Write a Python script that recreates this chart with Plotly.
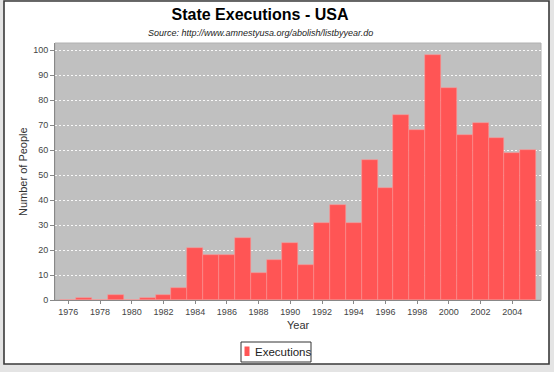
import plotly.graph_objects as go

years = list(range(1976, 2006))
executions = [0, 1, 0, 2, 0, 1, 2, 5, 21, 18, 18, 25, 11, 16, 23, 14, 31, 38, 31, 56,
              45, 74, 68, 98, 85, 66, 71, 65, 59, 60]
x_ticks = list(range(1976, 2005, 2))
y_ticks = list(range(0, 101, 10))

title_text = "State Executions - USA"
subtitle_text = "Source: http://www.amnestyusa.org/abolish/listbyyear.do"
series_name = "Executions"

W, H = 554, 372
L, R, T, B = 55, 13, 43, 72
PW, PH = W - L - R, H - T - B


def px(x):
    return (x - L) / PW


def py(y):
    return (H - B - y) / PH


FONT = "Liberation Sans, Arial, sans-serif"
RED = "#FF5555"

fig = go.Figure()
fig.add_trace(go.Bar(
    x=years, y=executions, name=series_name, width=1,
    marker=dict(color=RED, line=dict(color="rgba(255,150,150,0.9)", width=0.6)),
    showlegend=False,
))

shapes = [
    dict(type="rect", xref="paper", yref="paper", x0=px(0), x1=px(W), y0=py(H), y1=py(0),
         fillcolor="#E4E4E4", line=dict(width=0), layer="below"),
    dict(type="rect", xref="paper", yref="paper", x0=px(4), x1=px(549), y0=py(364), y1=py(1),
         fillcolor="white", line=dict(color="#3A3A3A", width=1.6), layer="below"),
    dict(type="rect", xref="paper", yref="paper", x0=0, x1=1, y0=0, y1=1,
         fillcolor="#C0C0C0", line=dict(color="#B0B0B0", width=1), layer="below"),
    dict(type="rect", xref="paper", yref="paper", x0=px(241), x1=px(311), y0=py(362), y1=py(342),
         fillcolor="white", line=dict(color="#333333", width=1), layer="above"),
    dict(type="rect", xref="paper", yref="paper", x0=px(244.5), x1=px(249.5), y0=py(356), y1=py(346.5),
         fillcolor=RED, line=dict(width=0), layer="above"),
]

annotations = [
    dict(text="<i>" + subtitle_text + "</i>", xref="paper", yref="paper", x=px(260), y=py(33.5),
         xanchor="center", yanchor="middle", showarrow=False,
         font=dict(family=FONT, size=9, color="#222")),
    dict(text="Number of People", xref="paper", yref="paper", x=px(22.5), y=py(171.5),
         xanchor="center", yanchor="middle", showarrow=False, textangle=-90,
         font=dict(family=FONT, size=11, color="#333")),
    dict(text="Year", xref="paper", yref="paper", x=px(298), y=py(325),
         xanchor="center", yanchor="middle", showarrow=False,
         font=dict(family=FONT, size=11, color="#333")),
    dict(text=series_name, xref="paper", yref="paper", x=px(252.5), y=py(352),
         xanchor="left", yanchor="middle", showarrow=False,
         font=dict(family=FONT, size=11.5, color="#222")),
]

fig.update_layout(
    width=W, height=H,
    margin=dict(l=L, r=R, t=T, b=B, pad=0),
    paper_bgcolor="white", plot_bgcolor="#C0C0C0",
    title=dict(text=title_text, xref="container", yref="container",
               x=260 / W, y=1 - 14 / H, xanchor="center", yanchor="middle",
               font=dict(family=FONT, size=16, color="black", weight="bold")),
    font=dict(family=FONT),
    bargap=0,
    shapes=shapes,
    annotations=annotations,
    xaxis=dict(range=[1975.16, 2005.81], tickvals=x_ticks, ticktext=[str(v) for v in x_ticks],
               ticks="outside", ticklen=3, tickcolor="#888", showline=True, linecolor="#888",
               linewidth=1, showgrid=False, zeroline=False,
               tickfont=dict(family=FONT, size=9, color="#444")),
    yaxis=dict(range=[0, 102.9], tickvals=y_ticks, ticks="outside", ticklen=4, tickcolor="#888",
               showline=True, linecolor="#888", linewidth=1, showgrid=True,
               gridcolor="rgba(255,255,255,0.9)", gridwidth=1, griddash="2px,2px",
               zeroline=False, tickfont=dict(family=FONT, size=9, color="#444")),
)

fig.write_html(
    "out.html",
    config={"displayModeBar": False},
    post_script="document.body.style.margin='0';document.body.style.overflow='hidden';",
)
